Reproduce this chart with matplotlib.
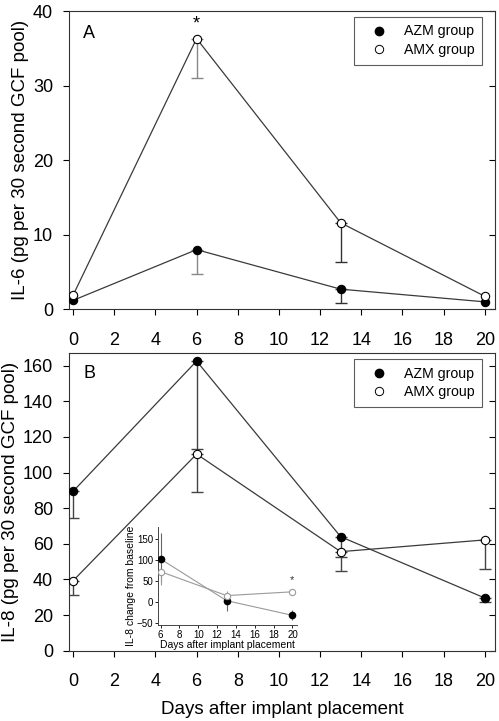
import numpy as np
import matplotlib
matplotlib.use("Agg")
import matplotlib.pyplot as plt
from matplotlib.lines import Line2D

plt.rcParams['font.family'] = ['Liberation Sans', 'DejaVu Sans']

# ---- data ----
days = [0, 6, 13, 20]

il6_azm = [1.2, 8.0, 2.7, 1.0]
il6_azm_low = [np.nan, 4.7, 0.85, np.nan]
il6_amx = [1.9, 36.3, 11.6, 1.75]
il6_amx_low = [np.nan, 31.0, 6.4, np.nan]

il8_azm = [89.5, 162.6, 64.0, 29.6]
il8_azm_low = [74.3, 113.2, 52.8, 27.5]
il8_amx = [39.3, 110.4, 55.6, 62.2]
il8_amx_low = [31.3, 89.3, 44.9, 45.7]

inset_days = [6, 13, 20]
inset_azm = [103, 4, -31]
inset_azm_low = [49, -20, -41]
inset_azm_high = [164, np.nan, -18]
inset_amx = [73, 16, 25]
inset_amx_low = [41, np.nan, np.nan]
inset_amx_high = [np.nan, 26, np.nan]

xticks = list(range(0, 21, 2))
il6_yticks = [0, 10, 20, 30, 40]
il8_yticks = [0, 20, 40, 60, 80, 100, 120, 140, 160]
inset_xticks = list(range(6, 21, 2))
inset_yticks = [-50, 0, 50, 100, 150]

W, H = 499, 721
fig = plt.figure(figsize=(W / 100, H / 100), dpi=100)

def fx(px):
    return px / W

def fy(py):
    return 1 - py / H

line_col = '#3a3a3a'

def style_axes(ax, yticks, ylim):
    ax.set_xlim(-0.2, 20.5)
    ax.set_ylim(*ylim)
    ax.set_xticks(xticks)
    ax.set_yticks(yticks)
    ax.tick_params(axis='x', which='both', direction='out', length=4, width=0.8,
                   labelsize=13, pad=12, top=False)
    ax.tick_params(axis='y', which='both', direction='out', length=4.5, width=0.8,
                   labelsize=13, pad=7, left=True, right=False)
    for s in ax.spines.values():
        s.set_linewidth(0.8)
        s.set_color('#333333')
    axr = ax.secondary_yaxis('right')
    axr.set_yticks(yticks)
    axr.tick_params(direction='in', length=4, width=0.8, labelright=False)
    axr.spines['right'].set_visible(False)

def plot_series(ax, x, y, low, filled, ecolors, ms=6.0):
    for xi, yi, li, ec in zip(x, y, low, ecolors):
        if not np.isnan(li):
            ax.errorbar([xi], [yi], yerr=[[yi - li], [0]], fmt='none',
                        ecolor=ec, elinewidth=1.0, capsize=4, capthick=1.0, zorder=2)
    ax.plot(x, y, color=line_col, lw=0.9, zorder=3)
    ax.plot(x, y, ls='none', marker='o', ms=ms,
            mfc='black' if filled else 'white', mec='black', mew=0.8, zorder=4)

def add_legend(ax, anchor_y):
    handles = [Line2D([], [], ls='none', marker='o', ms=6.0, mfc='black', mec='black'),
               Line2D([], [], ls='none', marker='o', ms=6.0, mfc='white', mec='black', mew=0.7)]
    leg = ax.legend(handles, ['AZM group', 'AMX group'], loc='upper right',
                    bbox_to_anchor=(0.970, anchor_y), fontsize=10.2, frameon=True,
                    fancybox=False, edgecolor='#333333', handlelength=2.4,
                    handletextpad=0.55, borderpad=0.55, labelspacing=0.3,
                    borderaxespad=0)
    leg.get_frame().set_linewidth(0.8)

# ---- Panel A ----
axA = fig.add_axes([fx(69), fy(309.3), fx(495 - 69), (309.3 - 11) / H])
style_axes(axA, il6_yticks, (0, 40))
plot_series(axA, days, il6_azm, il6_azm_low, True, ['#333', '#888', '#333', '#333'])
plot_series(axA, days, il6_amx, il6_amx_low, False, ['#333', '#888', '#333', '#333'])
axA.text(6, 38.3, '*', ha='center', va='center', fontsize=13)
axA.text(0.033, 0.926, 'A', transform=axA.transAxes, ha='left', va='center', fontsize=13)
axA.set_ylabel('IL-6 (pg per 30 second GCF pool)', fontsize=13.5, labelpad=3)
add_legend(axA, 0.981)

# ---- Panel B ----
axB = fig.add_axes([fx(69), fy(650.7), fx(495 - 69), (650.7 - 352.7) / H])
style_axes(axB, il8_yticks, (0, 167.3))
plot_series(axB, days, il8_azm, il8_azm_low, True, ['#444'] * 4)
plot_series(axB, days, il8_amx, il8_amx_low, False, ['#444'] * 4)
axB.text(0.033, 0.929, 'B', transform=axB.transAxes, ha='left', va='center', fontsize=13)
axB.set_ylabel('IL-8 (pg per 30 second GCF pool)', fontsize=13.5, labelpad=3)
axB.set_xlabel('Days after implant placement', fontsize=13.5, labelpad=8)
add_legend(axB, 0.978)

# ---- Inset ----
axI = fig.add_axes([fx(158.3), fy(625), fx(296.7 - 158.3), (625 - 526.7) / H])
axI.set_facecolor('none')
axI.set_xlim(5.75, 20.45)
axI.set_ylim(-54, 180)
axI.set_xticks(inset_xticks)
axI.set_yticks(inset_yticks)
axI.spines['top'].set_visible(False)
axI.spines['right'].set_visible(False)
for s in ['left', 'bottom']:
    axI.spines[s].set_linewidth(0.7)
    axI.spines[s].set_color('#444444')
axI.tick_params(direction='out', length=2, width=0.6, labelsize=7, pad=1.5)
gray = '#9a9a9a'
for xi, yi, lo, hi in zip(inset_days, inset_azm, inset_azm_low, inset_azm_high):
    el = 0 if np.isnan(lo) else yi - lo
    eh = 0 if np.isnan(hi) else hi - yi
    axI.errorbar([xi], [yi], yerr=[[el], [eh]], fmt='none', ecolor='#666', elinewidth=0.8,
                 capsize=0, zorder=2)
for xi, yi, lo, hi in zip(inset_days, inset_amx, inset_amx_low, inset_amx_high):
    el = 0 if np.isnan(lo) else yi - lo
    eh = 0 if np.isnan(hi) else hi - yi
    axI.errorbar([xi], [yi], yerr=[[el], [eh]], fmt='none', ecolor=gray, elinewidth=0.8,
                 capsize=0, zorder=2)
axI.plot(inset_days, inset_azm, color=gray, lw=0.8, zorder=3)
axI.plot(inset_days, inset_amx, color=gray, lw=0.8, zorder=3)
axI.plot(inset_days, inset_azm, ls='none', marker='o', ms=4.5, mfc='black', mec='black', zorder=4)
axI.plot(inset_days, inset_amx, ls='none', marker='o', ms=4.5, mfc='white', mec=gray, mew=0.8, zorder=4)
axI.text(20, 52, '*', ha='center', va='center', fontsize=8, color='#333')
axI.set_ylabel('IL-8 change from baseline', fontsize=7.5)
axI.yaxis.set_label_coords(-0.16, 0.40)
axI.set_xlabel('Days after implant placement', fontsize=7.5, labelpad=0)

fig.savefig('out.png', dpi=100)
